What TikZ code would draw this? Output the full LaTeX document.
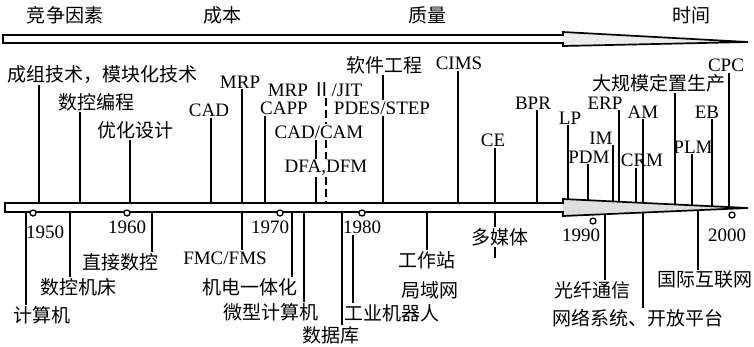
\documentclass[tikz,border=0pt]{standalone}
\usepackage{fontspec}
\setmainfont{Liberation Serif}
\newfontfamily\cjk{Noto Sans CJK SC}
\begin{document}
\begin{tikzpicture}[x=1pt,y=-1pt,
  lab/.style={inner sep=1pt,font=\fontsize{19}{21}\selectfont},
  cj/.style={inner sep=1pt,font=\fontsize{19}{21}\selectfont\cjk},
  tick/.style={line width=1.4pt},
  axisline/.style={line width=1.7pt},
  yrc/.style={draw,fill=white,circle,inner sep=0pt,minimum size=6pt,line width=1.3pt}]
\useasboundingbox (0,0) rectangle (754,346);

% category labels
\node[cj] (c1) at (65,15) {竞争因素};
\node[cj] (c2) at (222,15) {成本};
\node[cj] (c3) at (427,15) {质量};
\node[cj] (c4) at (691,15) {时间};

% top arrow
\fill[white] (3,35) -- (563,35) -- (563,32) -- (748,42) -- (563,46) -- (563,43) -- (3,43) -- cycle;
\fill[gray!15] (563,32) -- (748,42) -- (563,46) -- cycle;
\draw[axisline,line join=miter] (3,35) -- (563,35) -- (563,32) -- (748,42) -- (563,46) -- (563,43) -- (3,43) -- cycle;

% axis coordinates
\foreach \x in {26,39,70,80,130,152,211,242,265,292,304,316,326,342,353,383,427,458,495,537,568,588,605,613,619,636,643,675,692,698,712,729}
  {\coordinate (a\x) at (\x,208);}
\coordinate (dmtend) at (495,258);

% top labels
\node[cj]  (gt)    at (102,75)  {成组技术，模块化技术};
\node[cj]  (skbc)  at (96,102)  {数控编程};
\node[cj]  (yhsj)  at (135,130) {优化设计};
\node[lab] (cad)   at (209,110) {CAD};
\node[lab] (mrp)   at (240,82)  {MRP};
\node[lab] (mrp2)  at (315,90)  {MRP {\cjk Ⅱ}/JIT};
\node[lab] (capp)  at (284,108) {CAPP};
\node[lab] (cadcam) at (319,132) {CAD/CAM};
\node[lab] (dfa)   at (326,168) {DFA,DFM};
\node[cj]  (rjgc)  at (384,65)  {软件工程};
\node[lab] (pdes)  at (382,108) {PDES/STEP};
\node[lab] (cims)  at (459,63)  {CIMS};
\node[lab] (ce)    at (493,140) {CE};
\node[lab] (bpr)   at (533,103) {BPR};
\node[lab] (lp)    at (570,118) {LP};
\node[lab] (erp)   at (605,103) {ERP};
\node[lab] (im)    at (601,138) {IM};
\node[lab] (pdm)   at (589,157) {PDM};
\node[lab] (am)    at (643,112) {AM};
\node[lab] (crm)   at (642,160) {CRM};
\node[cj]  (dgm)   at (659,83)  {大规模定置生产};
\node[lab] (plm)   at (693,147) {PLM};
\node[lab] (eb)    at (707,112) {EB};
\node[lab] (cpc)   at (726,65)  {CPC};

% year labels
\node[lab] (y1950) at (45,232)  {1950};
\node[lab] (y1960) at (127,227) {1960};
\node[lab] (y1970) at (270,227) {1970};
\node[lab] (y1980) at (362,227) {1980};
\node[lab] (y1990) at (581,235) {1990};
\node[lab] (y2000) at (727,235) {2000};

% bottom labels
\node[cj]  (jsj)  at (42,315)  {计算机};
\node[cj]  (skjc) at (78,287)  {数控机床};
\node[cj]  (zjsk) at (120,262) {直接数控};
\node[lab] (fmc)  at (225,258) {FMC/FMS};
\node[cj]  (jd)   at (250,287) {机电一体化};
\node[cj]  (wx)   at (271,312) {微型计算机};
\node[cj]  (sjk)  at (331,335) {数据库};
\node[cj]  (gy)   at (392,313) {工业机器人};
\node[cj]  (gzz)  at (427,260) {工作站};
\node[cj]  (jyw)  at (430,290) {局域网};
\node[cj]  (dmt)  at (500,237) {多媒体};
\node[cj]  (gx)   at (592,290) {光纤通信};
\node[cj]  (wl)   at (638,318) {网络系统、开放平台};
\node[cj]  (gj)   at (705,280) {国际互联网};

% connectors above the axis
\draw[tick] (gt.south -| a39) -- (a39);
\draw[tick] (skbc.south -| a80) -- (a80);
\draw[tick] (yhsj.south -| a130) -- (a130);
\draw[tick] (cad.south -| a211) -- (a211);
\draw[tick] (mrp.south -| a242) -- (a242);
\draw[tick] (capp.south -| a265) -- (a265);
\draw[tick,dashed,dash pattern=on 8pt off 4pt] (mrp2.south -| a326) -- (cadcam.north -| a326);
\draw[tick,dashed,dash pattern=on 8pt off 4pt] (cadcam.south -| a326) -- (dfa.north -| a326);
\draw[tick,dashed,dash pattern=on 8pt off 4pt] (dfa.south -| a326) -- (a326);
\draw[tick] (cadcam.south -| a316) -- (dfa.north -| a316);
\draw[tick] (dfa.south -| a316) -- (a316);
\draw[tick] (rjgc.south -| a383) -- (pdes.north -| a383);
\draw[tick] (pdes.south -| a383) -- (a383);
\draw[tick] (cims.south -| a458) -- (a458);
\draw[tick] (ce.south -| a495) -- (a495);
\draw[tick] (bpr.south -| a537) -- (a537);
\draw[tick] (lp.south -| a568) -- (a568);
\draw[tick] (erp.south -| a619) -- (a619);
\draw[tick] (im.south -| a613) -- (a613);
\draw[tick] (pdm.south -| a588) -- (a588);
\draw[tick] (am.south -| a643) -- (a643);
\draw[tick] (crm.south -| a636) -- (a636);
\draw[tick] (dgm.south -| a675) -- (a675);
\draw[tick] (plm.south -| a692) -- (a692);
\draw[tick] (eb.south -| a712) -- (a712);
\draw[tick] (cpc.south -| a729) -- (a729);

% connectors below the axis
\draw[tick] (a26) -- (jsj.north -| a26);
\draw[tick] (a70) -- (skjc.north -| a70);
\draw[tick] (a152) -- (zjsk.north -| a152);
\draw[tick] (a242) -- (fmc.north -| a242);
\draw[tick] (a292) -- (jd.north -| a292);
\draw[tick] (a304) -- (wx.north -| a304);
\draw[tick] (a342) -- (sjk.north -| a342);
\draw[tick] (y1980.south -| a353) -- (gy.north -| a353);
\draw[tick] (a427) -- (gzz.north -| a427);
\draw[tick] (a495) -- (dmt.north -| a495);
\draw[tick] (dmt.south -| dmtend) -- (dmtend);
\draw[tick] (a605) -- (gx.north -| a605);
\draw[tick] (a643) -- (wl.north -| a643);
\draw[tick] (a698) -- (gj.north -| a698);

% time axis
\fill[white] (5,203) -- (563,203) -- (563,199) -- (748,208) -- (563,216) -- (563,212) -- (5,212) -- cycle;
\fill[gray!25] (563,199) -- (748,208) -- (563,216) -- cycle;
\draw[axisline,line join=miter] (5,203) -- (563,203) -- (563,199) -- (748,208) -- (563,216) -- (563,212) -- (5,212) -- cycle;

% year markers
\node[yrc] (m1950) at (33,213) {};
\node[yrc] (m1960) at (127,213) {};
\node[yrc] (m1970) at (280,213) {};
\node[yrc] (m1980) at (362,213) {};
\node[yrc] (m1990) at (593,221) {};
\node[yrc] (m2000) at (732,215) {};
\end{tikzpicture}
\end{document}
